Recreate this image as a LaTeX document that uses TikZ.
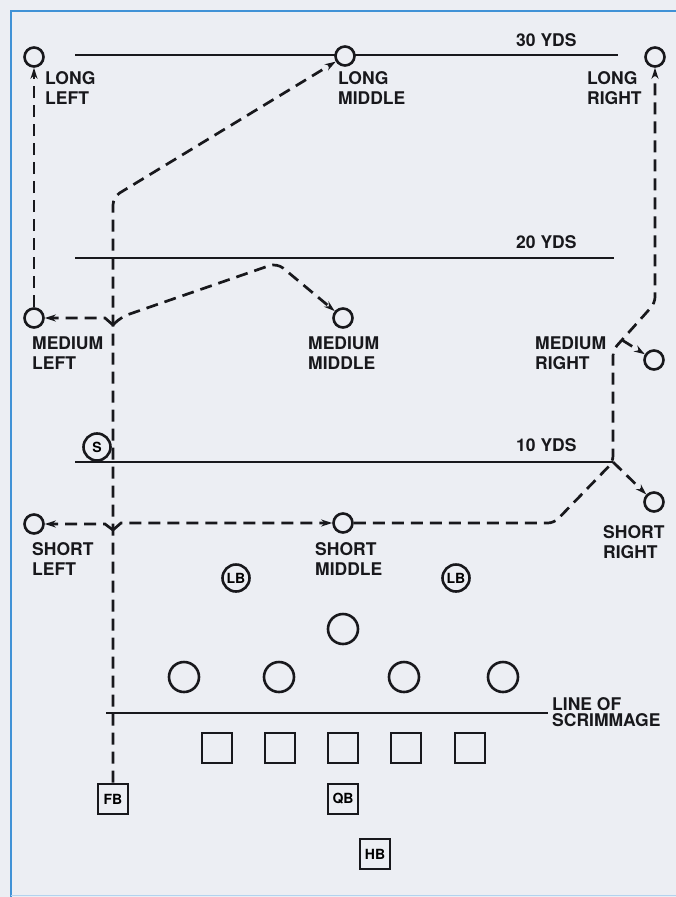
\documentclass[tikz,border=0pt]{standalone}
\usepackage{fontspec}
\setmainfont{TeX Gyre Heros}
\usepackage{xcolor}
\usepackage{tikz}
\usetikzlibrary{arrows.meta,positioning,calc}

\definecolor{paper}{RGB}{236,238,243}
\definecolor{frameblue}{RGB}{64,146,214}
\definecolor{ink}{RGB}{24,24,28}
\newcommand{\zonefont}{\fontsize{17.5}{20}\selectfont\bfseries}
\newcommand{\scrimfont}{\fontsize{17.5}{16}\selectfont\bfseries}
\newcommand{\tagfont}{\fontsize{14}{14}\selectfont\bfseries}

\tikzset{
  spot/.style={draw=ink, circle, fill=paper, line width=2.6pt, minimum size=19pt, inner sep=0pt},
  defender/.style={draw=ink, circle, fill=paper, line width=2.6pt, minimum size=30pt, inner sep=0pt},
  marker/.style={draw=ink, circle, fill=paper, line width=2.6pt, minimum size=27pt, inner sep=0pt, font=\tagfont},
  blocker/.style={draw=ink, rectangle, fill=paper, line width=2.6pt, minimum size=30pt, inner sep=0pt, font=\tagfont},
  yardline/.style={draw=ink, line width=2.9pt},
  route/.style={draw=ink, line width=2.7pt, dash pattern=on 12pt off 7pt},
  arrowed/.style={-{Stealth[length=11pt,width=7pt]}},
  zone/.style={font=\zonefont, text=ink, align=left, inner sep=0pt, anchor=north west},
}

\begin{document}
\begin{tikzpicture}[x=1pt,y=-1pt]
		\useasboundingbox (0,0) rectangle (676,897);
		\fill[paper] (0,0) rectangle (676,897);
		\draw[frameblue, line width=2.5pt] (11,897) -- (11,11) -- (676,11);
		\draw[frameblue!40, line width=1pt] (11,895) -- (676,895);

		% yard lines
		\draw[yardline] (75,55) -- (618,55);
		\draw[yardline] (75,258) -- (614,258);
		\draw[yardline] (75,462) -- (613,462);
		\draw[yardline] (106,713) -- (548,713);

		% pass zones
		\node[spot] (ll) at (34,57) {};
		\node[spot] (lm) at (345,56) {};
		\node[spot] (lr) at (655,57) {};
		\node[spot] (ml) at (34,318) {};
		\node[spot] (mm) at (343,318) {};
		\node[spot] (mr) at (654,360) {};
		\node[spot] (sl) at (34,524) {};
		\node[spot] (sm) at (343,523) {};
		\node[spot] (sr) at (654,502) {};

		% defense
		\node[marker] (s) at (97,447) {S};
		\node[marker] (lbl) at (236,578) {LB};
		\node[marker] (lbr) at (456,578) {LB};
		\node[defender] (dt) at (343,629) {};
		\node[defender] (d1) at (184,677) {};
		\node[defender] (d2) at (279,677) {};
		\node[defender] (d3) at (404,677) {};
		\node[defender] (d4) at (503,677) {};

		% offense
		\node[blocker] (o1) at (217,748) {};
		\node[blocker] (o2) at (280,748) {};
		\node[blocker] (o3) at (343,748) {};
		\node[blocker] (o4) at (406,748) {};
		\node[blocker] (o5) at (470,748) {};
		\node[blocker] (fb) at (113,799) {FB};
		\node[blocker] (qb) at (343,799) {QB};
		\node[blocker] (hb) at (375,854) {HB};

		% route points
		\coordinate (fbturn) at (113,197);
		\coordinate (jmed) at (113,325);
		\coordinate (jshort) at (113,530);
		\coordinate (mmpeak) at (277,263);
		\coordinate (smturn) at (554,523);
		\coordinate (tenk) at (613,462);
		\coordinate (bendlo) at (613,350);
		\coordinate (bendhi) at (655,303);
		\coordinate (mrfork) at (622,340);

		% routes
		\draw[route, arrowed, rounded corners=8pt] (fb) -- (fbturn) -- (lm);
		\draw[route, arrowed] (jmed) -- (105,318) -- (ml);
		\draw[route, arrowed, rounded corners=8pt] (jmed) -- (121,317) -- (mmpeak) -- (mm);
		\draw[route, arrowed] (jshort) -- (105,524) -- (sl);
		\draw[route, arrowed] (jshort) -- (121,523) -- (sm);
		\draw[route, arrowed] (ml) -- (ll);
		\draw[route, arrowed, rounded corners=6pt] (sm) -- (smturn) -- (tenk) -- (bendlo) -- (bendhi) -- (lr);
		\draw[route, arrowed] (tenk) -- (sr);
		\draw[route, arrowed] (mrfork) -- (mr);

		% labels
		\node[zone] (lltag) at (45,71) {LONG\\LEFT};
		\node[zone] (lmtag) at (338,71) {LONG\\MIDDLE};
		\node[zone] (lrtag) at (587,71) {LONG\\RIGHT};
		\node[zone] (y30) at (516,33) {30 YDS};
		\node[zone] (y20) at (516,235) {20 YDS};
		\node[zone] (y10) at (516,438) {10 YDS};
		\node[zone] (mltag) at (32,337) {MEDIUM\\LEFT};
		\node[zone] (mmtag) at (308,337) {MEDIUM\\MIDDLE};
		\node[zone] (mrtag) at (535,337) {MEDIUM\\RIGHT};
		\node[zone] (sltag) at (32,542) {SHORT\\LEFT};
		\node[zone] (smtag) at (315,542) {SHORT\\MIDDLE};
		\node[zone] (srtag) at (603,525) {SHORT\\RIGHT};
		\node[zone, font=\scrimfont] (lostag) at (552,697) {LINE OF\\SCRIMMAGE};
	\end{tikzpicture}
\end{document}
